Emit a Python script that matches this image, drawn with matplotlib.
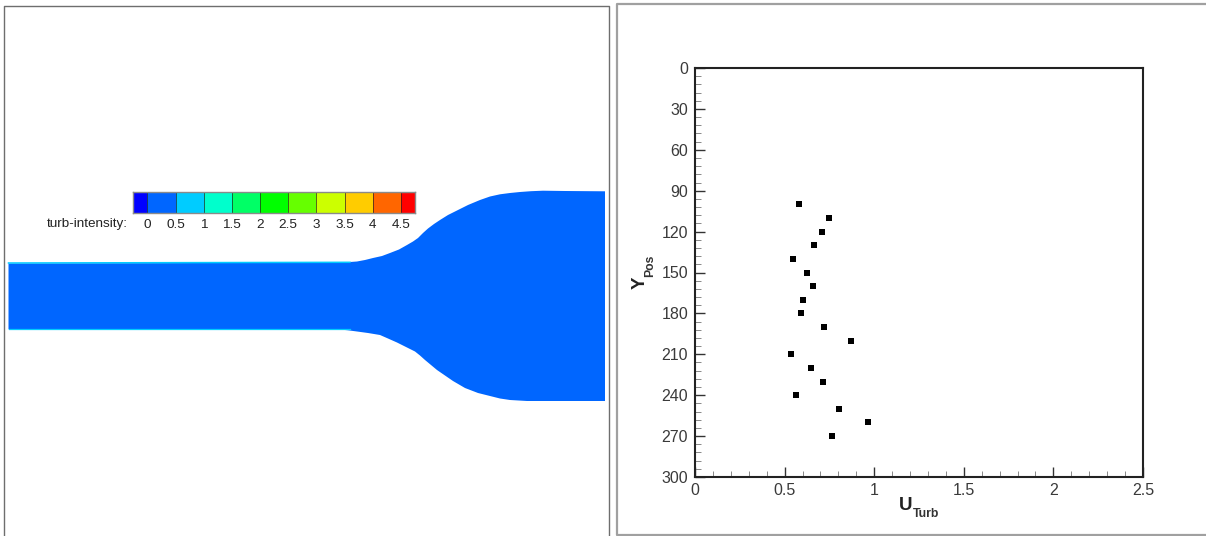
#!/usr/bin/env python
# -*- coding: utf-8 -*-
"""
Left: turbulence intensity contour of a widening channel
Right: U_Turb against Y_Pos scatter
"""

import matplotlib
matplotlib.use('Agg')
import matplotlib.pyplot as plt
from matplotlib.colors import ListedColormap
from matplotlib.ticker import MultipleLocator, FixedLocator, FixedFormatter

plt.rcParams['font.family'] = ['Liberation Sans', 'DejaVu Sans']

# ============================================================
# Data
# ============================================================
y_pos = [100, 110, 120, 130, 140, 150, 160, 170, 180, 190,
         200, 210, 220, 230, 240, 250, 260, 270]
u_turb = [0.58, 0.75, 0.71, 0.664, 0.547, 0.625, 0.657, 0.603, 0.593, 0.72,
          0.871, 0.534, 0.649, 0.716, 0.565, 0.806, 0.968, 0.765]

# contour levels of the colour bar
level_edges = [-0.25, 0, 0.5, 1, 1.5, 2, 2.5, 3, 3.5, 4, 4.5, 4.75]
level_colors = ['#0000ff', '#0066ff', '#00ccff', '#00ffcc', '#00ff66', '#00ff00',
                '#66ff00', '#ccff00', '#ffcc00', '#ff6600', '#ff0000']
level_labels = ['0', '0.5', '1', '1.5', '2', '2.5', '3', '3.5', '4', '4.5']
level_ticks = [0, 0.5, 1, 1.5, 2, 2.5, 3, 3.5, 4, 4.5]

# channel outline in pixels
top_x = [8.5, 200, 340, 350, 357, 365, 373, 382, 390, 399, 407, 413, 418, 423, 428,
         434, 440, 448, 457, 468, 480, 490, 500, 510, 520, 531, 543, 565, 605]
top_y = [263.5, 263, 262.5, 262, 261.5, 260, 258, 256, 253, 249.5, 245, 241.5, 238, 233, 228.5,
         224, 220, 215, 210.5, 205, 200, 196.5, 194.3, 193, 192, 191.2, 190.7, 191, 191.3]
bot_x = [605, 527, 510, 500, 490, 478, 465, 453, 445, 437, 431, 425, 420, 415, 406,
         397, 388, 380, 368, 357, 348, 340, 200, 8.5]
bot_y = [401, 401, 400, 398.5, 396, 393, 388, 381, 375.5, 370, 365, 360, 355.5, 351.5, 347,
         342.5, 338.5, 335, 333, 331.5, 330.3, 329.5, 329.3, 329.3]

# ============================================================
# Canvas in pixel units, for the contour panel and the frames
# ============================================================
fig = plt.figure(figsize=(12.06, 5.36), dpi=100, facecolor='white')
bg = fig.add_axes([0, 0, 1, 1])
bg.set_xlim(0, 1206)
bg.set_ylim(536, 0)
bg.axis('off')

# panel frames
bg.plot([4, 4, 609, 609], [536, 6, 6, 536], color='#6e6e6e', lw=1.0)
bg.plot([1206, 617, 617, 1206], [4, 4, 535, 535], color='#a0a0a0', lw=1.6)

# channel
bg.fill(top_x + bot_x, top_y + bot_y, color='#0066ff', lw=0)
bg.plot([8.5, 350], [263, 262.3], color='#00ccff', lw=1.1)
bg.plot([8.5, 350], [329.3, 329.3], color='#00ccff', lw=0.9)

# ============================================================
# Colour bar
# ============================================================
cb = fig.add_axes([133.3 / 1206, 1 - 213 / 536, 281.7 / 1206, 20.5 / 536])
cb.pcolormesh(level_edges, [0, 1], [list(range(len(level_colors)))],
              cmap=ListedColormap(level_colors), edgecolors='none')
for e in level_edges[1:-1]:
    cb.axvline(e, color='#222222', lw=0.7, alpha=0.7)
cb.set_xlim(level_edges[0], level_edges[-1])
cb.set_yticks([])
cb.xaxis.set_major_locator(FixedLocator(level_ticks))
cb.xaxis.set_major_formatter(FixedFormatter(level_labels))
cb.tick_params(axis='x', length=0, pad=4, labelsize=9.7, labelcolor='#222222')
for s in cb.spines.values():
    s.set_color('#8a8a8a')
    s.set_linewidth(1.0)
bg.text(127.5, 224, 'turb-intensity:', ha='right', va='center', fontsize=9.7, color='#222222')

# ============================================================
# Scatter
# ============================================================
ax = fig.add_axes([695 / 1206, 1 - 477 / 536, 448 / 1206, 409 / 536])
ax.plot(u_turb, y_pos, 's', color='black', ms=3.7, mew=0)
ax.set_xlim(0, 2.5)
ax.set_ylim(300, 0)

ax.xaxis.set_major_locator(FixedLocator([0, 0.5, 1, 1.5, 2, 2.5]))
ax.xaxis.set_major_formatter(FixedFormatter(['0', '0.5', '1', '1.5', '2', '2.5']))
ax.xaxis.set_minor_locator(MultipleLocator(0.1))
ax.yaxis.set_major_locator(MultipleLocator(30))
ax.yaxis.set_minor_locator(MultipleLocator(6))

ax.tick_params(which='major', direction='in', length=7.5, width=1.0, color='#333333',
               labelsize=11.5, labelcolor='#3a3a3a')
ax.tick_params(which='minor', direction='in', length=4.5, width=0.7, color='#888888')
ax.tick_params(axis='x', which='major', pad=4)
ax.tick_params(axis='y', which='major', pad=5)
for s in ax.spines.values():
    s.set_color('#222222')
    s.set_linewidth(1.5)

# axis titles with subscripts
bg.text(899, 506, 'U', fontsize=13.5, fontweight='bold', color='#222222', ha='left', va='center')
bg.text(913, 514, 'Turb', fontsize=8.8, fontweight='bold', color='#333333', ha='left', va='center')
bg.text(640, 283, 'Y', fontsize=13.5, fontweight='bold', color='#222222', rotation=90, ha='center', va='center')
bg.text(650, 266, 'Pos', fontsize=8.8, fontweight='bold', color='#333333', rotation=90, ha='center', va='center')

fig.savefig('out.png', dpi=100)
plt.close(fig)
